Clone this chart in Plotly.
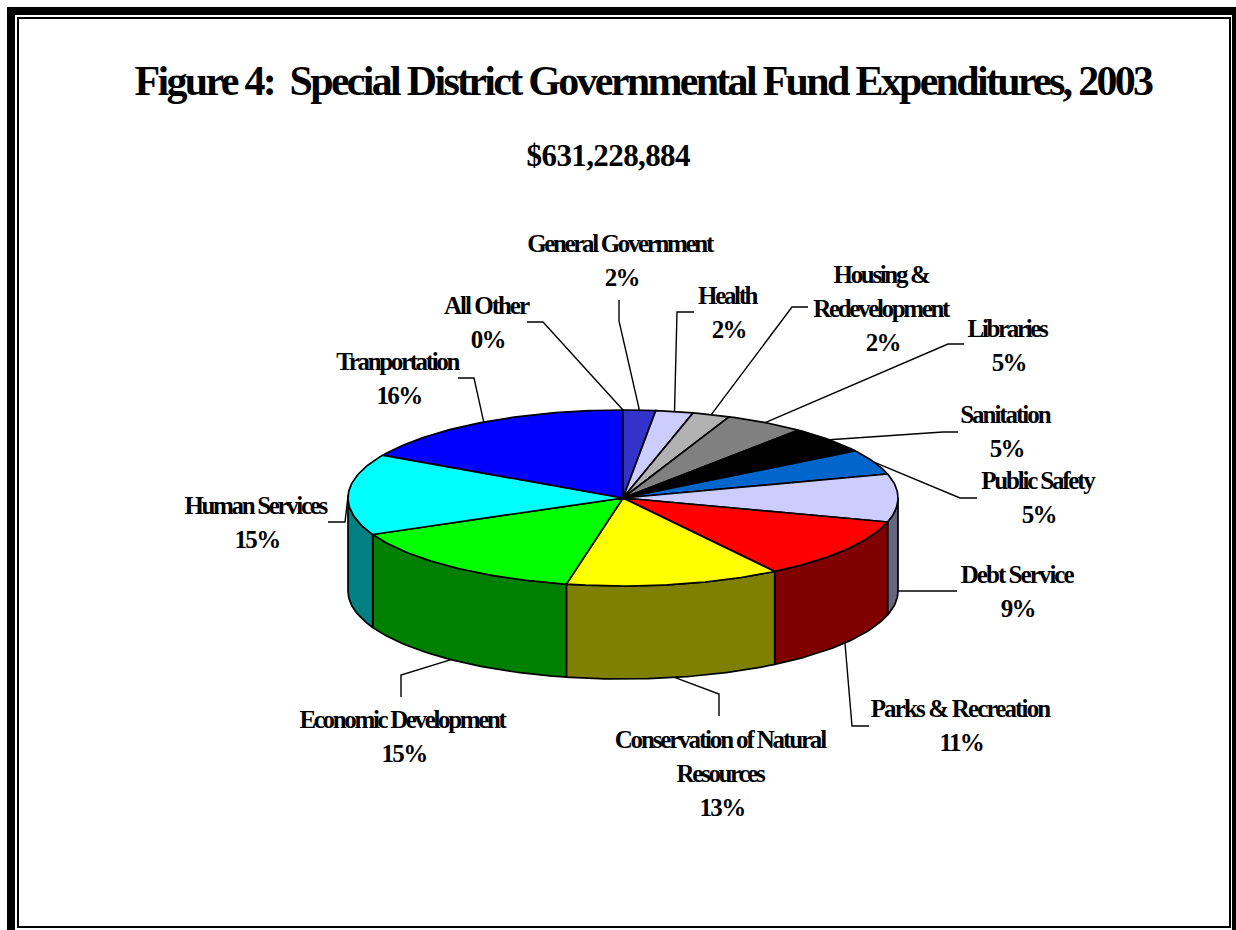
import json
import math
import plotly.graph_objects as go

# ---- data ----
categories = ["All Other", "General Government", "Health", "Housing & Redevelopment",
              "Libraries", "Sanitation", "Public Safety", "Debt Service",
              "Parks & Recreation", "Conservation of Natural Resources",
              "Economic Development", "Human Services", "Tranportation"]
label_lines = [["All Other"], ["General Government"], ["Health"], ["Housing &", "Redevelopment"],
               ["Libraries"], ["Sanitation"], ["Public Safety"], ["Debt Service"],
               ["Parks & Recreation"], ["Conservation of Natural", "Resources"],
               ["Economic Development"], ["Human Services"], ["Tranportation"]]
percent_labels = ["0%", "2%", "2%", "2%", "5%", "5%", "5%", "9%", "11%", "13%", "15%", "15%", "16%"]
# drawn share of the pie, as measured from the slice boundaries in the picture
shares = [0.0, 1.9, 2.2, 2.2, 4.7, 5.0, 4.6, 8.8, 11.3, 12.6, 14.9, 14.9, 16.9]

TITLE = "Figure 4:  Special District Governmental Fund Expenditures, 2003"
SUBTITLE = "$631,228,884"

# ---- style ----
top_colors = ["#3333CC", "#3333CC", "#CCCCFF", "#B2B2B2", "#808080", "#000000", "#0066CC",
              "#CCCCFF", "#FF0000", "#FFFF00", "#00FF00", "#00FFFF", "#0000FF"]
side_colors = ["#19196A", "#19196A", "#666680", "#595959", "#404040", "#000000", "#003366",
               "#666680", "#800000", "#808000", "#008000", "#008080", "#000080"]
FONT = "Liberation Serif"
# letter-spacing overrides (px) where the reference text runs wider than the default
tracking = {"Parks & Recreation": -1.85, "Debt Service": -1.95, "Conservation of Natural": -2.15,
            "Public Safety": -2.2, "All Other": -2.0, "Sanitation": -2.05}

# ---- layout geometry (page pixels) ----
W, H = 1236, 930
CX, CY, RX, RY, DEPTH = 623, 498, 275, 88, 93
# where each leader attaches: top rim, rightmost foot of the wall, or bottom rim
attach = ["top", "top", "top", "top", "top", "top", "top", "side", "bottom", "bottom", "bottom", "top", "top"]
leader_bends = [[(543, 322), (527, 322)], [(619, 321), (619, 300)], [(677, 312), (694, 312)],
                [(792, 307), (808, 307)], [(948, 344), (964, 344)], [(943, 432), (958, 432)],
                [(960, 498), (977, 498)], [(957, 591)], [(852, 726), (869, 726)],
                [(719, 694), (719, 716)], [(401, 675), (401, 697)], [(345, 522), (328, 522)],
                [(474, 378), (458, 378)]]
label_x = [486, 620, 727, 881, 1007, 1005, 1037, 1016, 960, 720, 402, 255, 397]
label_y = [305, 243, 295, 274, 328, 414, 480, 574, 708, 739, 719, 505, 361]
LINE_GAP = 34
PERCENT_NUDGE = 1.5


def rim(t_deg, drop=0.0):
    t = math.radians(t_deg)
    return CX + RX * math.sin(t), CY - RY * math.cos(t) + drop


def arc(a, b, drop=0.0):
    n = max(2, int(abs(b - a) / 1.0) + 1)
    return [rim(a + (b - a) * i / (n - 1), drop) for i in range(n)]


total = sum(shares)
edges = [0.0]
for s in shares:
    edges.append(edges[-1] + s / total * 360.0)

fig = go.Figure()


def poly(points, fill=None, width=1.7):
    xs = [p[0] for p in points]
    ys = [p[1] for p in points]
    fig.add_trace(go.Scatter(
        x=xs, y=ys, mode="lines", line=dict(color="#000000", width=width),
        fill="toself" if fill else "none", fillcolor=fill, hoverinfo="skip", showlegend=False))


# leaders
for i, name in enumerate(categories):
    mid = (edges[i] + edges[i + 1]) / 2
    if attach[i] == "side":
        start = rim(90.0, DEPTH)
    else:
        start = rim(mid, DEPTH if attach[i] == "bottom" else 0)
    poly([start] + leader_bends[i], width=1.4)

# visible outer wall
for i in range(len(categories)):
    a, b = max(edges[i], 90.0), min(edges[i + 1], 270.0)
    if b > a:
        top = arc(a, b)
        bottom = arc(b, a, DEPTH)
        poly(top + bottom + [top[0]], fill=side_colors[i])

# top face
for i in range(len(categories)):
    if shares[i] > 0:
        poly([(CX, CY)] + arc(edges[i], edges[i + 1]) + [(CX, CY)], fill=top_colors[i])

annotations = [dict(x=608, y=155, text=SUBTITLE, showarrow=False, xref="x", yref="y",
                    xanchor="center", yanchor="middle",
                    font=dict(family=FONT, size=31, color="#000000", weight="bold"))]
for i in range(len(categories)):
    rows = label_lines[i] + [percent_labels[i]]
    for k, line in enumerate(rows):
        nudge = PERCENT_NUDGE if k == len(rows) - 1 else 0
        annotations.append(dict(x=label_x[i] + nudge, y=label_y[i] + k * LINE_GAP,
                                text=line.replace("&", "&amp;"),
                                showarrow=False, xref="x", yref="y", xanchor="center", yanchor="middle",
                                font=dict(family=FONT, size=25, color="#000000", weight="bold")))

frame = [
    dict(type="rect", x0=7, x1=1236, y0=7, y1=15),
    dict(type="rect", x0=7, x1=15, y0=7, y1=930),
    dict(type="rect", x0=1232, x1=1236, y0=7, y1=930),
]
shapes = [dict(s, xref="x", yref="y", fillcolor="#000000", line=dict(width=0), layer="below") for s in frame]
shapes.append(dict(type="rect", xref="x", yref="y", x0=18, x1=1230, y0=18, y1=927,
                   line=dict(color="#000000", width=2), layer="below"))

fig.update_layout(
    width=W, height=H, margin=dict(l=0, r=0, t=0, b=0), autosize=False,
    paper_bgcolor="#FFFFFF", plot_bgcolor="#FFFFFF", showlegend=False,
    title=dict(text=TITLE, x=643 / W, xanchor="center", xref="paper",
               y=1 - 80 / H, yanchor="middle", yref="paper",
               font=dict(family=FONT, size=42, color="#000000", weight="bold")),
    xaxis=dict(range=[0, W], visible=False, fixedrange=True),
    yaxis=dict(range=[H, 0], visible=False, fixedrange=True),
    annotations=annotations, shapes=shapes,
)

post = """
var tracking = %s;
document.body.style.margin = '0';
document.documentElement.style.overflow = 'hidden';
document.querySelectorAll('.gtitle').forEach(function (t) { t.style.letterSpacing = '-2.7px'; });
document.querySelectorAll('.annotation-text').forEach(function (t) {
  var fs = parseFloat(t.style.fontSize);
  var s = t.textContent.trim();
  var isPct = s.slice(-1) === '%%';
  var sp = fs > 27 ? -0.6 : (isPct ? -1.7 : (s in tracking ? tracking[s] : -2.35));
  t.style.letterSpacing = sp + 'px';
});
""" % json.dumps(tracking)
fig.write_html("out.html", post_script=post, config=dict(displayModeBar=False, staticPlot=True))
